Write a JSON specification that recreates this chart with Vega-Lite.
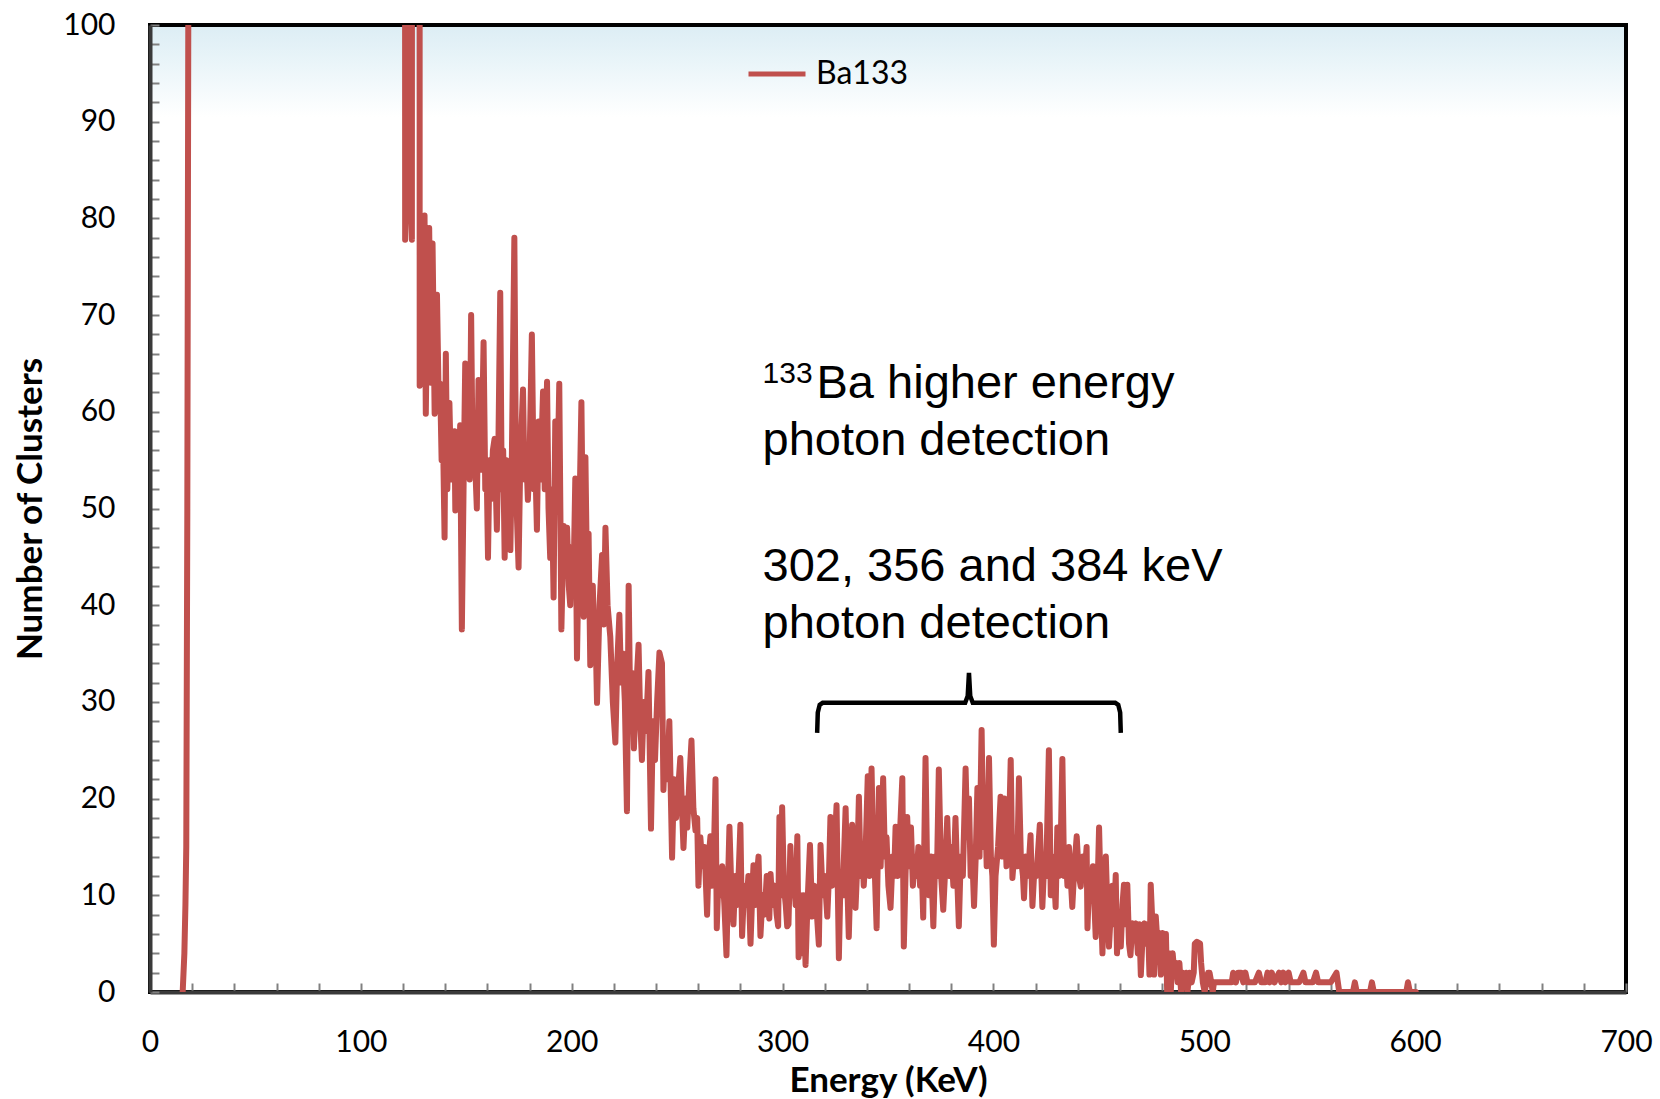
{
  "$schema": "https://vega.github.io/schema/vega-lite/v6.json",
  "width": 1476,
  "height": 967,
  "autosize": {"type": "none"},
  "padding": {"left": 150, "top": 25, "right": 34, "bottom": 107},
  "background": "#ffffff",
  "config": {
    "font": "Lato",
    "view": {
      "stroke": "#000000",
      "strokeWidth": 4,
      "fill": {"gradient": "linear", "x1": 0, "y1": 0, "x2": 0, "y2": 1,
        "stops": [{"offset": 0, "color": "#dcedf4"}, {"offset": 0.04, "color": "#eaf5f9"}, {"offset": 0.095, "color": "#ffffff"}, {"offset": 1, "color": "#ffffff"}]}
    },
    "axisX": {
      "grid": false,
      "tickColor": "#808080", "tickWidth": 2,
      "domainColor": "#3a3a3a", "domainWidth": 4,
      "labelFont": "Lato", "labelFontSize": 30, "labelColor": "#000000", "labelPadding": 44,
      "labelFlush": false, "labelOverlap": false,
      "titleFont": "Lato", "titleFontSize": 35, "titleFontWeight": "bold", "titleColor": "#000000", "titlePadding": 6
    },
    "axisY": {
      "grid": false,
      "tickColor": "#808080", "tickWidth": 2,
      "domainColor": "#3a3a3a", "domainWidth": 4,
      "labelFont": "Lato", "labelFontSize": 30, "labelColor": "#000000", "labelPadding": 44,
      "labelFlush": false, "labelOverlap": false,
      "titleFont": "Lato", "titleFontSize": 35, "titleFontWeight": "bold", "titleColor": "#000000", "titlePadding": 14
    }
  },
  "datasets": {
    "spectrum": [
      {"e":15.5,"n":0},{"e":16.3,"n":4},{"e":16.8,"n":9},{"e":17.2,"n":15},{"e":17.7,"n":50},{"e":18.2,"n":105},{"e":19,"n":1000},
      {"e":120.1,"n":1000},{"e":121.0,"n":77.8},{"e":121.6,"n":1000},{"e":122.6,"n":1000},{"e":122.7,"n":85},{"e":124.2,"n":77.8},{"e":124.9,"n":1000},{"e":127.4,"n":1000},
      {"e":127.9,"n":62.7},{"e":129.2,"n":72},{"e":130.2,"n":80.3},{"e":130.8,"n":59.8},{"e":131.6,"n":74},{"e":132.4,"n":79},{"e":133.2,"n":63},{"e":134.0,"n":77.4},{"e":135.0,"n":59.8},{"e":136.1,"n":72.1},{"e":137.0,"n":60},{"e":137.6,"n":62.9},
      {"e":138.3,"n":55},{"e":138.8,"n":60},{"e":139.7,"n":47},{"e":140.3,"n":66},{"e":141.0,"n":52},{"e":142.0,"n":60.9},{"e":142.8,"n":53},{"e":143.5,"n":56},{"e":144.4,"n":58},{"e":144.8,"n":49.8},
      {"e":145.6,"n":57},{"e":146.3,"n":52},{"e":147.1,"n":58.6},{"e":147.9,"n":37.5},{"e":148.7,"n":52},{"e":149.5,"n":65},{"e":150.3,"n":55},{"e":151.0,"n":58},{"e":151.6,"n":53},{"e":152.3,"n":70},
      {"e":153.0,"n":55},{"e":153.8,"n":57},{"e":155.0,"n":50},{"e":155.8,"n":63.3},{"e":156.6,"n":54},{"e":157.4,"n":57},{"e":158.2,"n":67.2},{"e":159.0,"n":52},{"e":159.6,"n":55},{"e":160.3,"n":44.9},
      {"e":161.0,"n":55},{"e":161.8,"n":51},{"e":162.6,"n":56},{"e":163.4,"n":57.2},{"e":164.5,"n":47.8},{"e":165.2,"n":56},{"e":166.1,"n":72.3},{"e":166.8,"n":52},{"e":167.5,"n":56},{"e":168.2,"n":44.9},
      {"e":169.0,"n":55},{"e":169.8,"n":50},{"e":170.9,"n":45.7},{"e":171.6,"n":55},{"e":172.8,"n":78},{"e":173.6,"n":52},{"e":174.8,"n":43.9},{"e":175.6,"n":55},{"e":176.9,"n":62.3},{"e":177.6,"n":53},
      {"e":178.4,"n":56},{"e":179.2,"n":50.9},{"e":180.0,"n":55},{"e":181.1,"n":68},{"e":182.0,"n":52},{"e":182.7,"n":55},{"e":183.5,"n":47.8},{"e":184.3,"n":59},{"e":185.2,"n":53},{"e":186.4,"n":62.1},
      {"e":187.2,"n":52},{"e":188.3,"n":63.1},{"e":189.0,"n":50},{"e":189.8,"n":44.9},{"e":190.6,"n":52},{"e":191.4,"n":40.8},{"e":192.2,"n":59},{"e":193.0,"n":50},{"e":194.1,"n":62.9},{"e":195.1,"n":37.5},
      {"e":196.2,"n":48.2},{"e":197.0,"n":44},{"e":197.8,"n":48},{"e":198.6,"n":42},{"e":199.3,"n":40},{"e":200.1,"n":46},{"e":200.9,"n":43},{"e":201.7,"n":53.1},{"e":202.5,"n":34.5},{"e":203.3,"n":45},
      {"e":204.6,"n":61},{"e":205.7,"n":38.8},{"e":206.5,"n":55.3},{"e":207.3,"n":42},{"e":208.0,"n":47.4},{"e":208.8,"n":33.8},{"e":209.5,"n":40},{"e":210.0,"n":42},{"e":210.7,"n":36},{"e":211.2,"n":38.4},
      {"e":212.0,"n":29.9},{"e":213.2,"n":40},{"e":214.4,"n":45.2},{"e":215.2,"n":38},{"e":216.0,"n":48},{"e":217.0,"n":40},{"e":218.3,"n":36.7},{"e":219.5,"n":30},{"e":220.7,"n":25.8},{"e":221.6,"n":34},
      {"e":222.6,"n":39},{"e":223.4,"n":32},{"e":224.2,"n":35},{"e":225.2,"n":30},{"e":226.2,"n":18.7},{"e":227.0,"n":42},{"e":227.8,"n":28},{"e":228.6,"n":33},{"e":229.5,"n":25.2},{"e":230.5,"n":31},
      {"e":231.7,"n":35.9},{"e":232.5,"n":28},{"e":233.3,"n":24},{"e":234.2,"n":30},{"e":235.2,"n":27},{"e":236.4,"n":33.1},{"e":237.6,"n":16.9},{"e":238.5,"n":28},{"e":239.5,"n":24},{"e":240.5,"n":30},
      {"e":241.6,"n":35.1},{"e":242.8,"n":34},{"e":243.5,"n":20.9},{"e":244.4,"n":26},{"e":245.3,"n":22},{"e":246.3,"n":28},{"e":247.6,"n":13.9},{"e":248.5,"n":22},{"e":249.5,"n":18},{"e":250.5,"n":21},
      {"e":251.5,"n":24.2},{"e":252.3,"n":19},{"e":253.0,"n":14.9},{"e":254.0,"n":20},{"e":254.8,"n":17},{"e":255.8,"n":22},{"e":256.8,"n":26},{"e":257.7,"n":19},{"e":258.7,"n":16.7},{"e":259.5,"n":18},
      {"e":260.1,"n":11},{"e":261.0,"n":16},{"e":262.0,"n":13},{"e":263.0,"n":15},{"e":264.2,"n":8},{"e":265.0,"n":14},{"e":265.8,"n":16.1},{"e":266.6,"n":11},{"e":267.4,"n":14},{"e":268.2,"n":22},
      {"e":268.8,"n":6.6},{"e":269.6,"n":12},{"e":270.5,"n":10},{"e":271.4,"n":13},{"e":272.4,"n":9},{"e":273.4,"n":3.8},{"e":274.2,"n":12},{"e":274.8,"n":17.1},{"e":275.8,"n":10},{"e":276.7,"n":7},
      {"e":277.6,"n":12},{"e":278.5,"n":9},{"e":279.3,"n":13},{"e":280.0,"n":17.3},{"e":280.8,"n":5.8},{"e":281.8,"n":11},{"e":282.8,"n":9},{"e":283.8,"n":12},{"e":284.8,"n":5},{"e":285.6,"n":10},
      {"e":286.2,"n":13.1},{"e":287.0,"n":9},{"e":287.8,"n":12},{"e":288.6,"n":14},{"e":289.5,"n":5.8},{"e":290.5,"n":10},{"e":291.5,"n":8},{"e":292.5,"n":12},{"e":293.7,"n":7.6},{"e":294.3,"n":12.2},
      {"e":295.2,"n":9},{"e":296.2,"n":11},{"e":297.2,"n":8},{"e":297.9,"n":6.8},{"e":298.5,"n":18.1},{"e":299.3,"n":10},{"e":299.8,"n":19.1},{"e":300.6,"n":11},{"e":301.5,"n":9},{"e":302.2,"n":6.8},
      {"e":302.8,"n":7},{"e":303.7,"n":15.1},{"e":304.5,"n":10},{"e":305.3,"n":12},{"e":306.2,"n":9},{"e":307.0,"n":16.1},{"e":307.6,"n":3.6},
      {"e":308.5,"n":10},{"e":309.2,"n":4},{"e":310.0,"n":10},{"e":310.9,"n":2.8},{"e":311.8,"n":9},{"e":313.0,"n":15.2},{"e":314.0,"n":7.8},{"e":315.0,"n":11},{"e":316.0,"n":9},{"e":317.2,"n":4.9},
      {"e":318.0,"n":15.2},{"e":319.0,"n":10},{"e":320.0,"n":12},{"e":321.2,"n":7.8},{"e":322.0,"n":12},{"e":322.7,"n":18.1},{"e":323.5,"n":11},{"e":324.5,"n":14},{"e":325.6,"n":19.3},{"e":326.7,"n":3.5},
      {"e":327.5,"n":12},{"e":328.5,"n":10},{"e":329.9,"n":19},{"e":330.6,"n":12},{"e":331.4,"n":5.7},{"e":332.2,"n":12},{"e":333.0,"n":17.3},{"e":333.8,"n":11},{"e":334.6,"n":8.7},{"e":335.4,"n":13},
      {"e":336.2,"n":20.2},{"e":337.0,"n":12},{"e":337.8,"n":15},{"e":338.5,"n":11},{"e":339.3,"n":14},{"e":340.4,"n":22.3},{"e":341.2,"n":12},{"e":342.2,"n":23.1},{"e":343.0,"n":14},{"e":343.8,"n":12},
      {"e":344.6,"n":6.6},{"e":345.7,"n":21.1},{"e":346.5,"n":13},{"e":347.7,"n":22.1},{"e":348.5,"n":14},{"e":349.3,"n":16},{"e":350.2,"n":11},{"e":351.2,"n":8.7},{"e":352.2,"n":14},{"e":352.9,"n":12},
      {"e":353.6,"n":17.1},{"e":354.5,"n":12},{"e":355.4,"n":15},{"e":356.8,"n":22.1},{"e":357.5,"n":4.7},{"e":358.3,"n":12},{"e":359.1,"n":18.1},{"e":360.0,"n":13},{"e":360.9,"n":17},{"e":361.8,"n":11},
      {"e":362.7,"n":14},{"e":363.6,"n":12},{"e":364.4,"n":15},{"e":365.2,"n":11},{"e":366.0,"n":13},{"e":366.7,"n":7.7},{"e":367.8,"n":24.2},{"e":368.6,"n":12},{"e":369.4,"n":10},{"e":370.4,"n":14},
      {"e":371.5,"n":6.8},{"e":372.4,"n":14},{"e":373.2,"n":12},{"e":374.1,"n":23},{"e":375.2,"n":12},{"e":376.2,"n":8.5},{"e":377.2,"n":13},{"e":378.1,"n":18},{"e":379.0,"n":12},{"e":380.0,"n":15},
      {"e":381.0,"n":11},{"e":382.0,"n":18},{"e":382.8,"n":12},{"e":383.6,"n":6.8},{"e":384.5,"n":14},{"e":385.5,"n":12},{"e":386.8,"n":23.1},{"e":387.6,"n":16},{"e":388.4,"n":20},{"e":389.2,"n":12},
      {"e":390.0,"n":14},{"e":390.8,"n":8.9},{"e":391.6,"n":14},{"e":392.4,"n":21.1},{"e":393.4,"n":14},{"e":394.4,"n":27.1},{"e":395.2,"n":15},{"e":396.0,"n":20},{"e":396.8,"n":13},{"e":397.9,"n":24.2},
      {"e":398.8,"n":14},{"e":399.5,"n":12},{"e":400.2,"n":4.9},{"e":401.0,"n":12},{"e":402.2,"n":15},{"e":403.4,"n":20.2},{"e":404.2,"n":14},{"e":405.2,"n":20},{"e":406.2,"n":13},{"e":407.2,"n":15},
      {"e":408.2,"n":24},{"e":409.0,"n":11.8},{"e":409.8,"n":14},{"e":410.6,"n":16},{"e":411.3,"n":13},{"e":412.1,"n":22.1},{"e":413.0,"n":14},{"e":414.0,"n":12},{"e":414.5,"n":9.7},{"e":415.3,"n":14},
      {"e":416.2,"n":12},{"e":417.0,"n":14},{"e":417.6,"n":16.2},{"e":418.5,"n":8.9},{"e":419.5,"n":13},{"e":420.4,"n":12},{"e":422.0,"n":17.3},{"e":423.2,"n":8.8},{"e":424.2,"n":14},{"e":425.0,"n":12},
      {"e":426.3,"n":25},{"e":427.2,"n":10},{"e":428.0,"n":14},{"e":428.8,"n":12},{"e":429.5,"n":8.8},{"e":430.3,"n":17},{"e":431.0,"n":12},{"e":431.8,"n":14},{"e":432.7,"n":24.1},{"e":433.5,"n":12},
      {"e":434.4,"n":14},{"e":435.1,"n":11},{"e":435.8,"n":15},{"e":436.6,"n":12},{"e":437.4,"n":8.8},{"e":438.4,"n":13},{"e":439.5,"n":16.1},{"e":440.5,"n":12},{"e":441.4,"n":10.9},{"e":442.4,"n":14},
      {"e":443.2,"n":12},{"e":444.2,"n":15},{"e":444.6,"n":6.6},{"e":445.5,"n":12},{"e":446.4,"n":10},{"e":447.2,"n":13},{"e":448.5,"n":5.7},{"e":449.3,"n":10},{"e":450.1,"n":17},{"e":451.0,"n":9},
      {"e":451.7,"n":4},{"e":452.5,"n":10},{"e":453.3,"n":14},{"e":454.0,"n":9},{"e":454.8,"n":4.7},{"e":455.6,"n":8},{"e":456.4,"n":11},{"e":457.2,"n":7},{"e":458.0,"n":12.1},{"e":458.6,"n":4},
      {"e":459.4,"n":8},{"e":460.4,"n":4.7},{"e":461.2,"n":9},{"e":461.9,"n":11.1},{"e":462.8,"n":7},{"e":463.5,"n":11.1},{"e":464.3,"n":5},{"e":465.0,"n":3.8},{"e":465.9,"n":7.1},{"e":466.8,"n":6},
      {"e":467.6,"n":7.1},{"e":468.5,"n":4},{"e":469.2,"n":7},{"e":469.9,"n":1.75},{"e":470.8,"n":6},{"e":471.6,"n":7.1},{"e":472.5,"n":5},{"e":473.3,"n":7},{"e":474.0,"n":1.8},{"e":474.6,"n":11.1},
      {"e":475.4,"n":7},{"e":476.2,"n":1.8},{"e":477.0,"n":7.8},{"e":477.8,"n":5},{"e":478.6,"n":6.1},{"e":479.4,"n":1.8},{"e":480.2,"n":6.1},{"e":481.0,"n":4},{"e":481.8,"n":6},{"e":482.4,"n":0},
      {"e":483.2,"n":4},{"e":484.1,"n":0},{"e":485.0,"n":4},{"e":485.8,"n":2},{"e":486.6,"n":3},{"e":487.4,"n":1},{"e":488.2,"n":3},{"e":489.0,"n":0},{"e":489.8,"n":2},{"e":490.6,"n":1},
      {"e":491.4,"n":2},{"e":492.0,"n":0},{"e":493.0,"n":2},{"e":494.0,"n":1},{"e":495.0,"n":2},{"e":495.5,"n":5},{"e":496.5,"n":5.2},{"e":498.0,"n":5},{"e":498.5,"n":3},{"e":499.3,"n":1},
      {"e":500.2,"n":0},{"e":501.0,"n":1},{"e":501.8,"n":2},{"e":502.5,"n":2},{"e":503.3,"n":1},{"e":504.0,"n":0},{"e":504.6,"n":1},{"e":507,"n":1},{"e":509,"n":1},{"e":511,"n":1},
      {"e":513.0,"n":1},{"e":513.7,"n":2},{"e":515,"n":1},{"e":516,"n":2},{"e":517.5,"n":2},{"e":518.5,"n":1},{"e":519.5,"n":2},{"e":520.5,"n":1},{"e":522,"n":1},{"e":524,"n":1},
      {"e":525.9,"n":2},{"e":527,"n":1},{"e":529,"n":1},{"e":530,"n":2},{"e":531,"n":1},{"e":532,"n":2},{"e":533.3,"n":1},{"e":535.5,"n":2},{"e":536.5,"n":1},{"e":537.5,"n":2},
      {"e":538.5,"n":1},{"e":540,"n":2},{"e":541,"n":1},{"e":543,"n":1},{"e":545,"n":1},{"e":547,"n":2},{"e":548,"n":1},{"e":550,"n":1},{"e":551.5,"n":1},{"e":553,"n":2},
      {"e":554,"n":1},{"e":556,"n":1},{"e":558,"n":1},{"e":560,"n":1},{"e":562.7,"n":2},{"e":564,"n":0},{"e":570.5,"n":0},{"e":571.4,"n":1},{"e":572.3,"n":0},{"e":578.6,"n":0},
      {"e":579.5,"n":1},{"e":580.4,"n":0},{"e":595.8,"n":0},{"e":596.6,"n":1},{"e":597.5,"n":0},{"e":600.3,"n":0}
    ],
    "brace": [
      {"e":316.4,"n":26.8},{"e":316.7,"n":28.9},{"e":317.6,"n":29.7},{"e":319.0,"n":29.9},{"e":386.6,"n":29.9},{"e":387.8,"n":30.6},{"e":388.4,"n":33.0},{"e":389.0,"n":30.6},{"e":390.2,"n":29.9},{"e":457.8,"n":29.9},{"e":459.2,"n":29.7},{"e":460.1,"n":28.9},{"e":460.4,"n":26.8}
    ]
  },
  "layer": [
    {
      "data": {"name": "spectrum"},
      "mark": {"type": "line", "clip": true, "strokeWidth": 6, "strokeJoin": "round", "strokeCap": "round"},
      "encoding": {
        "x": {
          "field": "e", "type": "quantitative", "title": "Energy (KeV)",
          "scale": {"domain": [0, 700], "nice": false, "zero": false},
          "axis": {
            "values": [0,20,40,60,80,100,120,140,160,180,200,220,240,260,280,300,320,340,360,380,400,420,440,460,480,500,520,540,560,580,600,620,640,660,680,700],
            "tickCount": 40,
            "labelExpr": "datum.value % 100 === 0 ? datum.label : ''",
            "labelOverlap": false,
            "tickSize": -9
          }
        },
        "y": {
          "field": "n", "type": "quantitative", "title": "Number of Clusters",
          "scale": {"domain": [0, 100], "nice": false, "zero": false},
          "axis": {
            "values": [0,2,4,6,8,10,12,14,16,18,20,22,24,26,28,30,32,34,36,38,40,42,44,46,48,50,52,54,56,58,60,62,64,66,68,70,72,74,76,78,80,82,84,86,88,90,92,94,96,98,100],
            "tickCount": 60,
            "labelExpr": "datum.value % 10 === 0 ? datum.label : ''",
            "labelOverlap": false,
            "tickSize": -9
          }
        },
        "color": {
          "datum": "Ba133",
          "scale": {"range": ["#C0504D"]},
          "legend": {
            "orient": "none", "legendX": 596, "legendY": 18, "title": null, "padding": 0,
            "symbolType": "stroke", "symbolSize": 3249, "symbolStrokeWidth": 5,
            "labelFont": "Lato", "labelFontSize": 32, "labelColor": "#000000", "labelOffset": 8
          }
        }
      }
    },
    {
      "data": {"name": "brace"},
      "mark": {"type": "line", "color": "#000000", "strokeWidth": 4.5, "clip": true},
      "encoding": {
        "x": {"field": "e", "type": "quantitative", "title": "Energy (KeV)"},
        "y": {"field": "n", "type": "quantitative", "title": "Number of Clusters"}
      }
    },
    {
      "data": {"values": [{}]},
      "mark": {"type": "text", "text": "133", "align": "left", "baseline": "alphabetic", "font": "Liberation Sans", "fontSize": 30, "color": "#000000"},
      "encoding": {
        "x": {"datum": 290.5, "type": "quantitative", "title": "Energy (KeV)"},
        "y": {"datum": 62.98, "type": "quantitative", "title": "Number of Clusters"}
      }
    },
    {
      "data": {"values": [{}]},
      "mark": {"type": "text", "text": "Ba higher energy", "align": "left", "baseline": "alphabetic", "font": "Liberation Sans", "fontSize": 47, "color": "#000000"},
      "encoding": {
        "x": {"datum": 316.1, "type": "quantitative", "title": "Energy (KeV)"},
        "y": {"datum": 61.43, "type": "quantitative", "title": "Number of Clusters"}
      }
    },
    {
      "data": {"values": [{}]},
      "mark": {"type": "text", "text": "photon detection", "align": "left", "baseline": "alphabetic", "font": "Liberation Sans", "fontSize": 47, "color": "#000000"},
      "encoding": {
        "x": {"datum": 290.5, "type": "quantitative", "title": "Energy (KeV)"},
        "y": {"datum": 55.53, "type": "quantitative", "title": "Number of Clusters"}
      }
    },
    {
      "data": {"values": [{}]},
      "mark": {"type": "text", "text": "302, 356 and 384 keV", "align": "left", "baseline": "alphabetic", "font": "Liberation Sans", "fontSize": 47, "color": "#000000"},
      "encoding": {
        "x": {"datum": 290.5, "type": "quantitative", "title": "Energy (KeV)"},
        "y": {"datum": 42.5, "type": "quantitative", "title": "Number of Clusters"}
      }
    },
    {
      "data": {"values": [{}]},
      "mark": {"type": "text", "text": "photon detection", "align": "left", "baseline": "alphabetic", "font": "Liberation Sans", "fontSize": 47, "color": "#000000"},
      "encoding": {
        "x": {"datum": 290.5, "type": "quantitative", "title": "Energy (KeV)"},
        "y": {"datum": 36.6, "type": "quantitative", "title": "Number of Clusters"}
      }
    }
  ]
}
